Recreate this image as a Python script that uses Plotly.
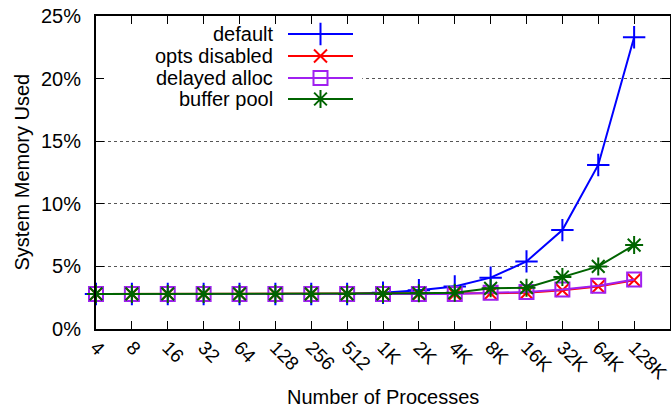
import plotly.graph_objects as go

categories = ["4", "8", "16", "32", "64", "128", "256", "512", "1K", "2K", "4K", "8K", "16K", "32K", "64K", "128K"]
default = [2.8, 2.8, 2.8, 2.8, 2.8, 2.8, 2.8, 2.8, 2.9, 3.1, 3.4, 4.1, 5.4, 7.9, 13.1, 23.3]
opts_disabled = [2.8, 2.8, 2.8, 2.8, 2.8, 2.8, 2.8, 2.8, 2.8, 2.8, 2.8, 2.85, 2.9, 3.1, 3.4, 3.9]
delayed_alloc = [2.8, 2.8, 2.8, 2.8, 2.8, 2.8, 2.8, 2.8, 2.8, 2.8, 2.8, 2.9, 2.95, 3.15, 3.45, 3.95]
buffer_pool = [2.8, 2.8, 2.8, 2.8, 2.8, 2.8, 2.8, 2.8, 2.8, 2.85, 2.9, 3.25, 3.3, 4.15, 5.0, 6.7]
y_ticks = [0, 5, 10, 15, 20, 25]

series = [
    ("default", default, "#0000ff", "cross-thin-open", 16),
    ("opts disabled", opts_disabled, "#ff0000", "x-thin-open", 13),
    ("delayed alloc", delayed_alloc, "#a020f0", "square-open", 14),
    ("buffer pool", buffer_pool, "#006400", "asterisk-open", 15),
]

FONT = "Liberation Sans, Arial, Helvetica, sans-serif"
FS = 20
xs = list(range(len(categories)))

fig = go.Figure()
for name, vals, color, sym, size in series:
    fig.add_trace(go.Scatter(
        x=xs, y=vals, mode="lines+markers", name=name, showlegend=False,
        line=dict(color=color, width=2),
        marker=dict(symbol=sym, size=size, color=color, line=dict(color=color, width=2)),
        cliponaxis=False,
    ))

# Manual legend (text left of sample, like gnuplot key) in an overlay axis spanning the plot area
leg_rows = [34, 56, 78, 99]
for (name, vals, color, sym, size), yy in zip(series, leg_rows):
    fig.add_trace(go.Scatter(
        x=[288, 353], y=[yy, yy], xaxis="x2", yaxis="y2", mode="lines",
        line=dict(color=color, width=2), showlegend=False, hoverinfo="skip"))
    fig.add_trace(go.Scatter(
        x=[320.5], y=[yy], xaxis="x2", yaxis="y2", mode="markers",
        marker=dict(symbol=sym, size=size, color=color, line=dict(color=color, width=2)),
        showlegend=False, hoverinfo="skip"))
    fig.add_annotation(x=275, y=yy, xref="x2", yref="y2", text=name, showarrow=False,
                       xanchor="right", yanchor="middle", font=dict(size=FS, color="black", family=FONT))

# opaque key background hiding gridlines (in main data coords)
fig.add_shape(type="rect", xref="x", yref="y", x0=0.03, x1=7.42, y0=17.5, y1=24.4,
              fillcolor="white", line=dict(width=0), layer="between")

fig.update_layout(
    width=671, height=409,
    margin=dict(l=96, r=1, t=16, b=80, autoexpand=False),
    paper_bgcolor="white", plot_bgcolor="white",
    font=dict(family=FONT, size=FS, color="black"),
    xaxis=dict(
        range=[0, 16], tickmode="array", tickvals=xs, ticktext=categories,
        tickangle=45, ticks="inside", ticklen=8, tickwidth=1, tickcolor="black",
        showline=True, linecolor="black", linewidth=2, mirror="ticks",
        showgrid=False, zeroline=False, ticklabelstandoff=-2,
        ticklabeloverflow="allow", automargin=False,
        tickfont=dict(size=19, family=FONT),
    ),
    yaxis=dict(
        range=[0, 25], tickmode="array", tickvals=y_ticks,
        ticktext=[f"{v}%" for v in y_ticks],
        ticks="inside", ticklen=8, tickwidth=1, tickcolor="black",
        showline=True, linecolor="black", linewidth=2, mirror="ticks",
        showgrid=True, gridcolor="#555555", griddash="dot", gridwidth=1,
        zeroline=False, ticklabelstandoff=9, automargin=False,
        ticklabeloverflow="allow",
        tickfont=dict(size=FS, family=FONT),
    ),
    xaxis2=dict(overlaying="x", range=[96, 670], visible=False, showgrid=False),
    yaxis2=dict(overlaying="y", range=[329, 16], visible=False, showgrid=False),
    showlegend=False,
)

fig.add_annotation(x=0.5, y=0, xref="paper", yref="paper", yshift=-68, text="Number of Processes",
                   showarrow=False, xanchor="center", yanchor="middle",
                   font=dict(size=FS, family=FONT, color="black"))
fig.add_annotation(x=0, y=0.5, xref="paper", yref="paper", xshift=-75, text="System Memory Used",
                   showarrow=False, textangle=-90, xanchor="center", yanchor="middle",
                   font=dict(size=FS, family=FONT, color="black"))

# remove the default 8px page margin so the figure fills the window exactly
fig.write_html("out.html", config={"displayModeBar": False},
               post_script="document.body.style.margin='0';")
